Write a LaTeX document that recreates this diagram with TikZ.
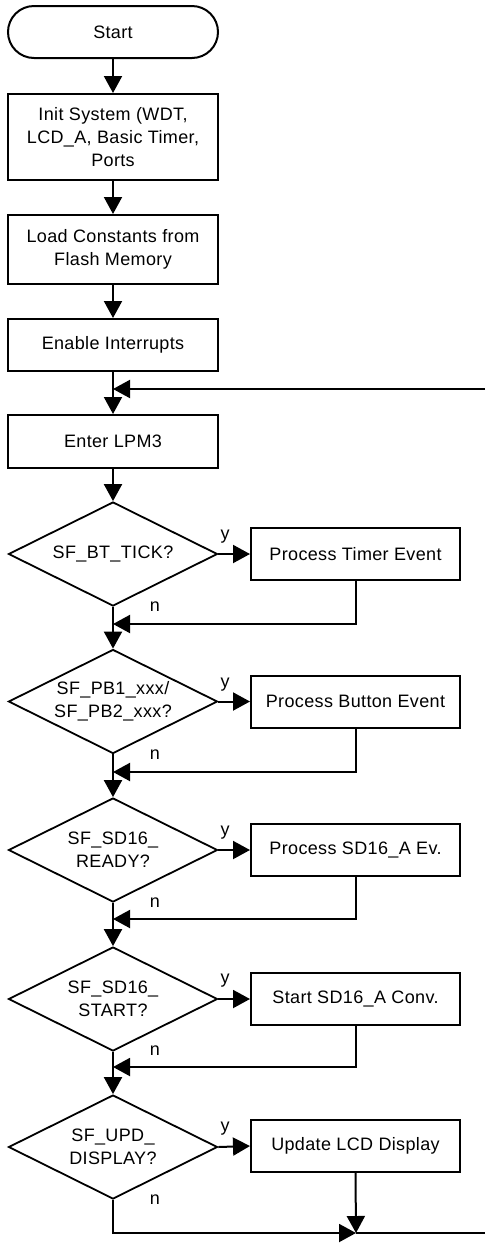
\documentclass[tikz,border=0pt]{standalone}
\usepackage{fontspec}
\setmainfont{Liberation Sans}[LetterSpace=2]
\usetikzlibrary{shapes.geometric,arrows.meta}
\begin{document}
\begin{tikzpicture}[x=1pt,y=-1pt,
  every node/.style={font=\fontsize{18}{23}\selectfont},
  line/.style={line width=2pt},
  arr/.style={line width=2pt,-{Triangle[length=17pt,width=18pt]}},
  boxl/.style={draw,line width=2pt,minimum width=210pt,inner sep=0pt,align=center},
  boxr/.style={draw,line width=2pt,minimum width=209pt,minimum height=52pt,inner sep=0pt,align=center},
  dia/.style={draw,diamond,line width=1.8pt,minimum width=209pt,minimum height=104pt,inner sep=0pt},
  lbl/.style={inner sep=0pt,align=center}]
\useasboundingbox (0,0) rectangle (485,1243);
% left column
\node[draw,line width=2pt,rounded corners=26pt,minimum width=210pt,minimum height=52pt,inner sep=0pt] (start) at (113,32) {Start};
\node[boxl,minimum height=86pt] (init) at (113,137) {Init System (WDT,\\LCD\_A, Basic Timer,\\Ports};
\node[boxl,minimum height=69pt] (load) at (113,249.5) {Load Constants from\\Flash Memory};
\node[boxl,minimum height=52pt] (enable) at (113,345) {Enable Interrupts};
\node[boxl,minimum height=53pt] (lpm) at (113,441.5) {Enter LPM3};
% decisions
\node[dia] (d1) at (113,554) {};
\node[lbl] (d1t) at (d1.center) {SF\_BT\_TICK?};
\node[dia] (d2) at (113,701.5) {};
\node[lbl] (d2t) at (d2.center) {SF\_PB1\_xxx/\\SF\_PB2\_xxx?};
\node[dia] (d3) at (113,850) {};
\node[lbl] (d3t) at (d3.center) {SF\_SD16\_\\READY?};
\node[dia] (d4) at (113,999) {};
\node[lbl] (d4t) at (d4.center) {SF\_SD16\_\\START?};
\node[dia] (d5) at (113,1147) {};
\node[lbl] (d5t) at (d5.center) {SF\_UPD\_\\DISPLAY?};
% process boxes
\node[boxr] (p1) at (355.5,554) {Process Timer Event};
\node[boxr] (p2) at (355.5,701.5) {Process Button Event};
\node[boxr] (p3) at (355.5,850) {Process SD16\_A Ev.};
\node[boxr] (p4) at (355.5,999) {Start SD16\_A Conv.};
\node[boxr] (p5) at (355.5,1146) {Update LCD Display};
% coordinates
\coordinate (loopin) at (485,389);
\coordinate (loopj) at (113,389);
\coordinate (m1) at (113,624);
\coordinate (m2) at (113,772);
\coordinate (m3) at (113,919);
\coordinate (m4) at (113,1067);
\coordinate (m5) at (356,1233);
\coordinate (endpt) at (485,1233);
% main flow
\draw[arr] (start) -- (init);
\draw[arr] (init) -- (load);
\draw[arr] (load) -- (enable);
\draw[arr] (enable) -- (lpm);
\draw[arr] (loopin) -- (loopj);
\draw[arr] (lpm) -- (d1.north);
\draw[arr] (d1.south) -- (d2.north);
\draw[arr] (d2.south) -- (d3.north);
\draw[arr] (d3.south) -- (d4.north);
\draw[arr] (d4.south) -- (d5.north);
% yes branches
\draw[arr] (d1.east) -- (p1.west);
\draw[arr] (d2.east) -- (p2.west);
\draw[arr] (d3.east) -- (p3.west);
\draw[arr] (d4.east) -- (p4.west);
\draw[arr] (d5.east) -- (p5.west);
% returns
\draw[arr] (p1.south) |- (m1);
\draw[arr] (p2.south) |- (m2);
\draw[arr] (p3.south) |- (m3);
\draw[arr] (p4.south) |- (m4);
\draw[arr] (p5.south) -- (m5);
\draw[arr] (d5.south) |- (m5);
\draw[line] (m5) -- (endpt);
% labels
\node[lbl] (y1) at (225,537) {y};
\node[lbl] (y2) at (225,685) {y};
\node[lbl] (y3) at (225,833) {y};
\node[lbl] (y4) at (225,981) {y};
\node[lbl] (y5) at (225,1129) {y};
\node[lbl] (n1) at (155,607) {n};
\node[lbl] (n2) at (155,755) {n};
\node[lbl] (n3) at (155,903) {n};
\node[lbl] (n4) at (155,1051) {n};
\node[lbl] (n5) at (155,1200) {n};
\end{tikzpicture}
\end{document}
